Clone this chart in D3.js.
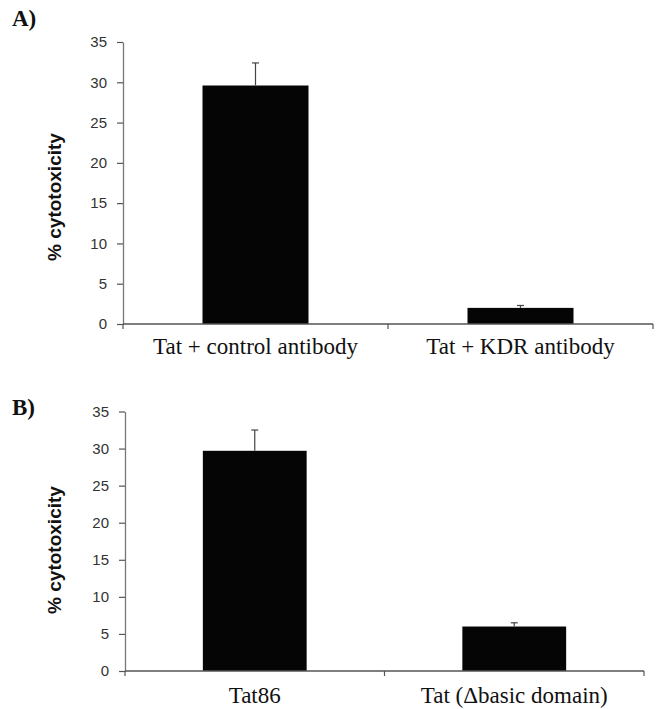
<!DOCTYPE html>
<html>
<head>
<meta charset="utf-8">
<script src="https://cdn.jsdelivr.net/npm/d3@7"></script>
<style>
  html, body { margin: 0; padding: 0; background: #fff; }
  svg { display: block; }
  .tick text { font-family: "Liberation Sans", Arial, sans-serif; }
</style>
</head>
<body>
<svg id="chart" width="656" height="709"></svg>
<script>
// --- DATA ---
const panelNames = ["A)", "B)"];
const yLabel = "% cytotoxicity";
const yTicks = [0, 5, 10, 15, 20, 25, 30, 35];

const categoriesA = ["Tat + control antibody", "Tat + KDR antibody"];
const valuesA = [29.6, 2.0];
const errorsA = [2.8, 0.3];

const categoriesB = ["Tat86", "Tat (\u0394basic domain)"];
const valuesB = [29.7, 6.0];
const errorsB = [2.8, 0.5];

// --- LAYOUT (pixel frame of each panel) ---
const panels = [
  { name: panelNames[0], cats: categoriesA, vals: valuesA, errs: errorsA,
    x0: 123, x1: 653, yTop: 42, yBase: 324, nameY: 26, labelY: 354, titleY: 197 },
  { name: panelNames[1], cats: categoriesB, vals: valuesB, errs: errorsB,
    x0: 125, x1: 644, yTop: 411.5, yBase: 671, nameY: 415, labelY: 703, titleY: 550 }
];

const svg = d3.select("#chart");

panels.forEach(p => drawPanel(p));

function drawPanel(p) {
  const g = svg.append("g");

  const x = d3.scaleBand()
    .domain(p.cats)
    .range([p.x0, p.x1])
    .paddingInner(0.6)
    .paddingOuter(0.3);

  const y = d3.scaleLinear()
    .domain([0, d3.max(yTicks)])
    .range([p.yBase, p.yTop]);

  // bars
  g.selectAll(".bar")
    .data(p.cats)
    .join("rect")
    .attr("x", (d) => x(d))
    .attr("y", (d, i) => y(p.vals[i]))
    .attr("width", x.bandwidth())
    .attr("height", (d, i) => y(0) - y(p.vals[i]))
    .attr("fill", "#050505");

  // error bars (upper only)
  const err = g.selectAll(".err")
    .data(p.cats)
    .join("g")
    .attr("stroke", "#444")
    .attr("stroke-width", 1.2);
  err.append("line")
    .attr("x1", (d) => x(d) + x.bandwidth() / 2)
    .attr("x2", (d) => x(d) + x.bandwidth() / 2)
    .attr("y1", (d, i) => y(p.vals[i]))
    .attr("y2", (d, i) => y(p.vals[i] + p.errs[i]));
  err.append("line")
    .attr("x1", (d) => x(d) + x.bandwidth() / 2 - 3.5)
    .attr("x2", (d) => x(d) + x.bandwidth() / 2 + 3.5)
    .attr("y1", (d, i) => y(p.vals[i] + p.errs[i]))
    .attr("y2", (d, i) => y(p.vals[i] + p.errs[i]));

  // y axis
  const yAxis = g.append("g")
    .attr("transform", `translate(${p.x0},0)`)
    .call(d3.axisLeft(y).tickValues(yTicks).tickSize(6).tickSizeOuter(0).tickPadding(10));
  yAxis.select(".domain").attr("stroke", "#777").attr("stroke-width", 1.3);
  yAxis.selectAll(".tick line").attr("stroke", "#555").attr("stroke-width", 1.2);
  yAxis.selectAll(".tick text")
    .attr("font-size", 15)
    .attr("fill", "#333");

  // x axis: line plus boundary ticks between categories
  const bounds = [p.x0].concat(p.cats.map(d => x(d) - x.step() * 0.3 + x.step()));
  const xAxis = g.append("g").attr("transform", `translate(0,${p.yBase})`);
  xAxis.append("line")
    .attr("x1", p.x0).attr("x2", p.x1)
    .attr("stroke", "#555").attr("stroke-width", 1.4);
  xAxis.selectAll(".bt")
    .data(bounds)
    .join("line")
    .attr("x1", d => d).attr("x2", d => d)
    .attr("y1", 0).attr("y2", 5)
    .attr("stroke", "#555").attr("stroke-width", 1.2);

  // category labels
  g.selectAll(".cat")
    .data(p.cats)
    .join("text")
    .attr("x", d => x(d) + x.bandwidth() / 2)
    .attr("y", p.labelY)
    .attr("text-anchor", "middle")
    .attr("font-family", "'Liberation Serif', 'Times New Roman', serif")
    .attr("font-size", 23)
    .attr("fill", "#111")
    .text(d => d);

  // y title
  g.append("text")
    .attr("transform", `translate(61,${p.titleY}) rotate(-90)`)
    .attr("text-anchor", "middle")
    .attr("font-family", "'Liberation Sans', Arial, sans-serif")
    .attr("font-weight", "bold")
    .attr("font-size", 19)
    .attr("fill", "#111")
    .text(yLabel);

  // panel name
  g.append("text")
    .attr("x", 12)
    .attr("y", p.nameY)
    .attr("font-family", "'Liberation Serif', 'Times New Roman', serif")
    .attr("font-weight", "bold")
    .attr("font-size", 23)
    .attr("fill", "#111")
    .text(p.name);
}
</script>
</body>
</html>
